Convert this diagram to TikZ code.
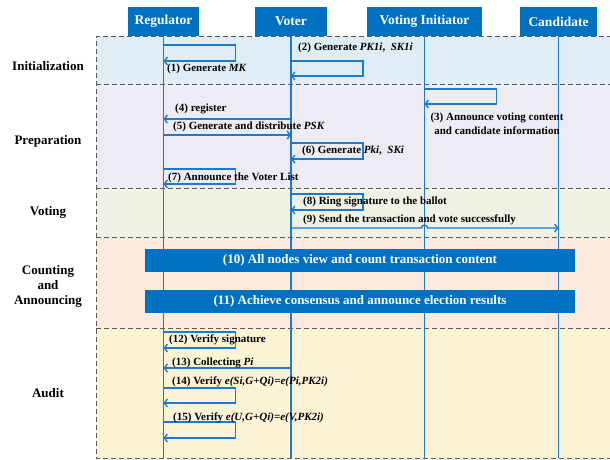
\documentclass[tikz,border=0pt]{standalone}
\usepackage{fontspec}
\setmainfont{Liberation Serif}
\usetikzlibrary{arrows.meta, calc}
\definecolor{hdrblue}{RGB}{0,112,192}
\definecolor{lineblue}{RGB}{28,122,204}
\definecolor{initbg}{RGB}{222,238,244}
\definecolor{prepbg}{RGB}{237,235,243}
\definecolor{votebg}{RGB}{238,241,227}
\definecolor{cntbg}{RGB}{253,235,224}
\definecolor{audbg}{RGB}{255,243,214}
\definecolor{bordgray}{RGB}{90,90,90}

\begin{document}
\begin{tikzpicture}[x=1pt,y=-1pt,
  hdr/.style={fill=hdrblue,text=white,minimum height=29pt,inner sep=0pt,
    font=\fontsize{13.5}{15}\selectfont\bfseries},
  bar/.style={fill=hdrblue,text=white,minimum width=430pt,minimum height=23pt,
    inner sep=0pt,font=\fontsize{13}{15}\selectfont\bfseries},
  phase/.style={align=center,font=\fontsize{13}{15}\selectfont\bfseries},
  lbl/.style={anchor=west,inner sep=0pt,font=\fontsize{11}{14}\selectfont\bfseries},
  life/.style={draw=lineblue,line width=1.5pt},
  msg/.style={draw=lineblue,line width=1.4pt,-{Straight Barb[length=3pt,width=8pt]}},
  self/.style={to path={-- ++(72,0) |- (\tikztotarget)}},
  bord/.style={draw=bordgray,line width=1pt,dash pattern=on 5pt off 3pt}]
  \useasboundingbox (0,0) rectangle (610,460);
  % phase bands
  \fill[initbg] (96,37) rectangle (610,84);
  \fill[prepbg] (96,84) rectangle (610,188);
  \fill[votebg] (96,188) rectangle (610,237);
  \fill[cntbg] (96,237) rectangle (610,328);
  \fill[audbg] (96,328) rectangle (610,458);
  \draw[bord] (612,37) -- (96,37) -- (96,458) -- (612,458);
  \foreach \y in {84,188,237,328}
    \draw[bord] (96,\y) -- (612,\y);
  \node[phase](pinit) at (48,66) {Initialization};
  \node[phase](pprep) at (48,141) {Preparation};
  \node[phase](pvote) at (48,212) {Voting};
  \node[phase](pcnt) at (48,286) {Counting\\and\\Announcing};
  \node[phase](paud) at (48,393) {Audit};
  % participants
  \node[hdr,minimum width=71pt](reg) at (163.5,21.5) {Regulator};
  \node[hdr,minimum width=72pt](vot) at (291,21.5) {Voter};
  \node[hdr,minimum width=115pt](ini) at (424.5,21.5) {Voting Initiator};
  \node[hdr,minimum width=77pt](can) at (558.5,21.5) {Candidate};
  \draw[life](reg.south)--(reg |- 0,458);
  \draw[life](vot.south)--(vot |- 0,458);
  \draw[life](ini.south)--(ini |- 0,458);
  \draw[life](can.south)--(can |- 0,458);
  \node[bar](cnt) at (360,260.5) {(10) All nodes view and count transaction content};
  \node[bar](cons) at (360,301) {(11) Achieve consensus and announce election results};
  % messages
  \draw[msg,self](reg |- 0,45) to (reg |- 0,61);
  \draw[msg,self](vot |- 0,61) to (vot |- 0,76);
  \draw[msg,self](ini |- 0,89) to (ini |- 0,104);
  \draw[msg](vot |- 0,119)--(reg |- 0,119);
  \draw[msg](reg |- 0,135)--(vot |- 0,135);
  \draw[msg,self](vot |- 0,143) to (vot |- 0,159);
  \draw[msg,self](reg |- 0,169) to (reg |- 0,184);
  \draw[msg,self](vot |- 0,194) to (vot |- 0,210);
  \draw[msg](vot |- 0,228)--($(ini |- 0,228)+(-3,0)$)
    arc[start angle=180,end angle=360,radius=3]--(can |- 0,228);
  \draw[msg,self](reg |- 0,332) to (reg |- 0,348);
  \draw[msg](vot |- 0,368)--(reg |- 0,368);
  \draw[msg,self](reg |- 0,388) to (reg |- 0,403);
  \draw[msg,self](reg |- 0,422) to (reg |- 0,438);
  % labels
  \node[lbl](l1) at (167,69) {(1) Generate \textit{MK}};
  \node[lbl](l2) at (298,48) {(2) Generate \textit{PK1i},\enspace\textit{SK1i}};
  \node[lbl,anchor=center,align=center](l3) at (497,124)
    {(3) Announce voting content\\and candidate information};
  \node[lbl](l4) at (175,109) {(4) register};
  \node[lbl](l5) at (173,127) {(5) Generate and distribute \textit{PSK}};
  \node[lbl](l6) at (302,151) {(6) Generate \textit{Pki},\enspace\textit{SKi}};
  \node[lbl](l7) at (168,178) {(7) Announce the Voter List};
  \node[lbl](l8) at (303,202) {(8) Ring signature to the ballot};
  \node[lbl](l9) at (303,220) {(9) Send the transaction and vote successfully};
  \node[lbl](l12) at (169,340) {(12) Verify signature};
  \node[lbl](l13) at (172,363) {(13) Collecting \textit{Pi}};
  \node[lbl](l14) at (172,382) {(14) Verify \textit{e(Si,G+Qi)=e(Pi,PK2i)}};
  \node[lbl](l15) at (173,418) {(15) Verify \textit{e(U,G+Qi)=e(V,PK2i)}};
\end{tikzpicture}
\end{document}
